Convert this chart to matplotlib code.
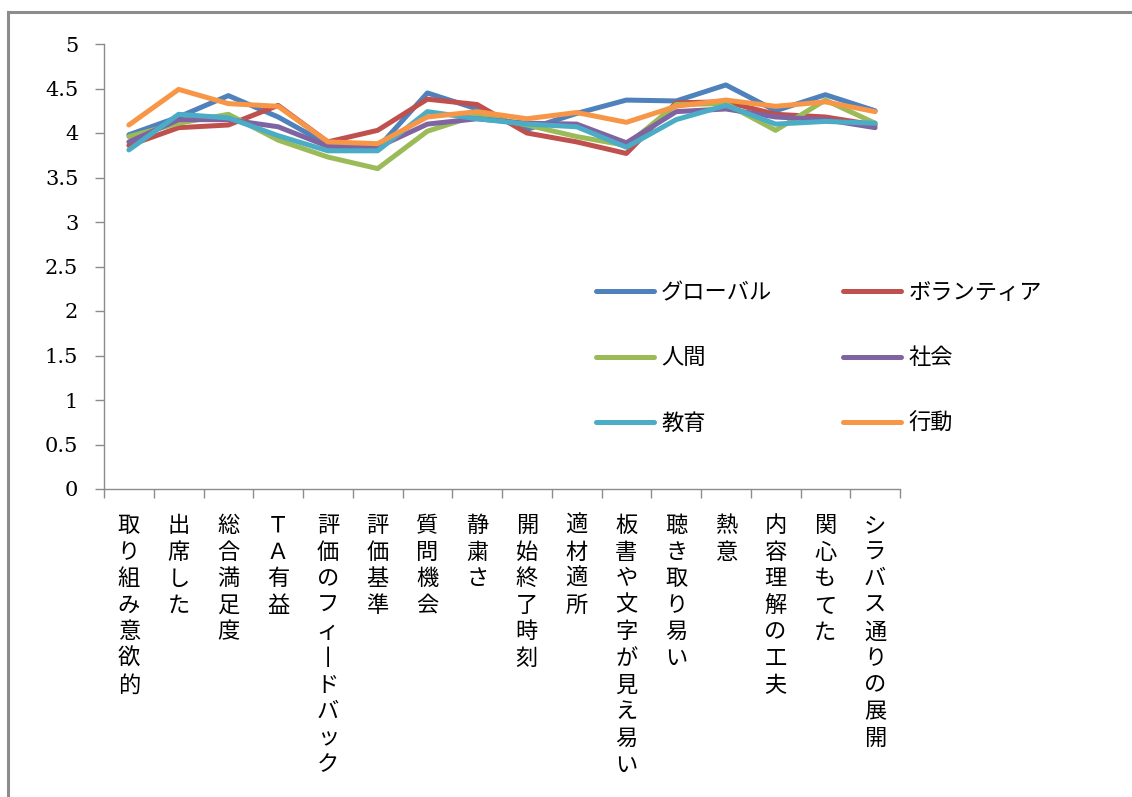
import matplotlib.pyplot as plt
from matplotlib.lines import Line2D
import numpy as np

plt.rcParams['font.family'] = ['Noto Sans CJK JP', 'DejaVu Sans']

categories = ['取り組み意欲的', '出席した', '総合満足度', 'ＴＡ有益', '評価のフィードバック',
              '評価基準', '質問機会', '静粛さ', '開始終了時刻', '適材適所',
              '板書や文字が見え易い', '聴き取り易い', '熱意', '内容理解の工夫',
              '関心もてた', 'シラバス通りの展開']

series_names = ['グローバル', 'ボランティア', '人間', '社会', '教育', '行動']
global_ = [3.98, 4.18, 4.42, 4.18, 3.87, 3.83, 4.45, 4.27, 4.04, 4.22, 4.37, 4.36, 4.54, 4.25, 4.43, 4.25]
volunteer = [3.86, 4.06, 4.09, 4.31, 3.90, 4.03, 4.38, 4.32, 4.00, 3.90, 3.77, 4.34, 4.35, 4.21, 4.18, 4.09]
human = [3.96, 4.11, 4.21, 3.92, 3.73, 3.60, 4.02, 4.20, 4.09, 3.96, 3.86, 4.32, 4.33, 4.03, 4.37, 4.11]
society = [3.90, 4.15, 4.15, 4.07, 3.85, 3.84, 4.10, 4.16, 4.11, 4.10, 3.89, 4.24, 4.27, 4.18, 4.15, 4.06]
education = [3.81, 4.21, 4.17, 3.97, 3.80, 3.80, 4.24, 4.16, 4.10, 4.07, 3.84, 4.15, 4.31, 4.10, 4.13, 4.11]
action = [4.09, 4.49, 4.33, 4.30, 3.90, 3.88, 4.18, 4.24, 4.16, 4.23, 4.12, 4.30, 4.37, 4.30, 4.35, 4.24]

colors = ['#4F81BD', '#C0504D', '#9BBB59', '#8064A2', '#4BACC6', '#F79646']
yticks = [0, 0.5, 1, 1.5, 2, 2.5, 3, 3.5, 4, 4.5, 5]
ytick_labels = ['0', '0.5', '1', '1.5', '2', '2.5', '3', '3.5', '4', '4.5', '5']


def vertical(s):
    # stack characters top to bottom; long vowel mark stands upright
    return '\n'.join('丨' if c == 'ー' else c for c in s)


fig = plt.figure(figsize=(11.32, 7.97), dpi=100)
ax = fig.add_axes([104 / 1132, 1 - 489 / 797, 796 / 1132, 445 / 797])

x = np.arange(len(categories))
handles = []
for vals, name, c in zip([global_, volunteer, human, society, education, action], series_names, colors):
    h, = ax.plot(x, vals, color=c, lw=3.6, label=name, solid_joinstyle='round', solid_capstyle='round')
    handles.append(h)

ax.set_xlim(-0.5, len(categories) - 0.5)
ax.set_ylim(0, 5)
ax.set_yticks(yticks)
ax.set_yticklabels(ytick_labels, family='DejaVu Serif', fontsize=15)
ax.tick_params(axis='y', length=6.5, width=1, color='#8c8c8c', pad=12)

ax.set_xticks(x)
ax.set_xticklabels([vertical(c) for c in categories], fontsize=16, va='top', linespacing=1.2)
ax.set_xticks(np.arange(-0.5, len(categories)), minor=True)
ax.tick_params(axis='x', which='major', length=0, pad=18)
ax.tick_params(axis='x', which='minor', length=6.5, width=1, color='#8c8c8c')

for side in ['top', 'right']:
    ax.spines[side].set_visible(False)
for side in ['left', 'bottom']:
    ax.spines[side].set_color('#8c8c8c')
    ax.spines[side].set_linewidth(1)

# legend filled row by row: two entries per row
order = [0, 2, 4, 1, 3, 5]
ax.legend([handles[i] for i in order], [series_names[i] for i in order],
          loc='upper left', bbox_to_anchor=(585 / 1132, 1 - 270 / 797), bbox_transform=fig.transFigure,
          ncol=2, frameon=False, fontsize=16, handlelength=2.6, handletextpad=0.32,
          columnspacing=3.2, labelspacing=1.9, borderpad=0)

# outer chart frame
fig.add_artist(Line2D([8 / 1132, 8 / 1132], [0, 1 - 12 / 797], color='#8c8c8c', lw=2.2))
fig.add_artist(Line2D([8 / 1132, 1], [1 - 12 / 797, 1 - 12 / 797], color='#8c8c8c', lw=2.2))

fig.savefig('out.png', dpi=100)
